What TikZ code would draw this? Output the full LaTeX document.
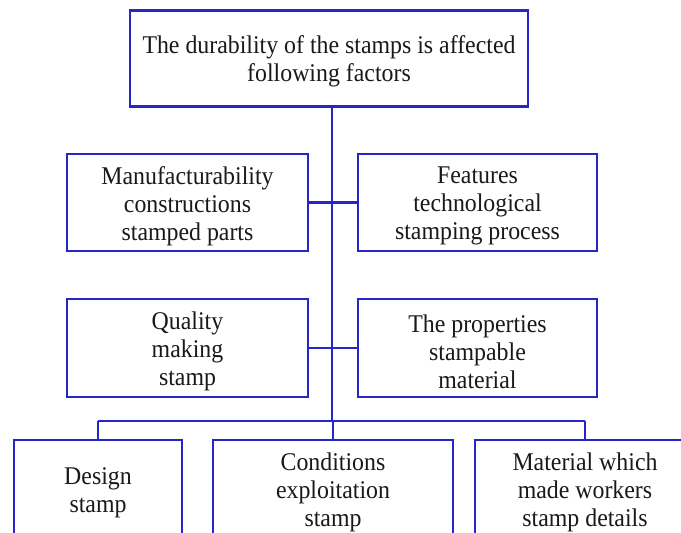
\documentclass[tikz,border=0pt]{standalone}
\usepackage{fontspec}
\setmainfont{Liberation Serif}[FakeStretch=0.935]
\definecolor{boxblue}{RGB}{38,38,200}
\definecolor{ink}{RGB}{25,25,25}
\tikzset{
  box/.style={draw=boxblue, line width=2.2pt, rectangle, inner sep=0pt},
  boxtext/.style={align=center, text=ink, inner sep=0pt,
    font=\fontsize{25.5}{27.8}\selectfont},
  link/.style={draw=boxblue, line width=2.2pt}
}
\begin{document}
\begin{tikzpicture}[x=1pt,y=-1pt]
\useasboundingbox (0,0) rectangle (681,533);
\clip (0,0) rectangle (681,533);
\fill[white] (0,0) rectangle (681,533);
% frames
\node[box, minimum width=398pt, minimum height=96pt] (top) at (329,58.5) {};
\node[box, minimum width=241pt, minimum height=97pt] (r2l) at (187.5,202.5) {};
\node[box, minimum width=239pt, minimum height=97pt] (r2r) at (477.5,202.5) {};
\node[box, minimum width=241pt, minimum height=98pt] (r3l) at (187.5,348) {};
\node[box, minimum width=239pt, minimum height=98pt] (r3r) at (477.5,348) {};
\node[box, minimum width=168pt, minimum height=96pt] (b1) at (98,488) {};
\node[box, minimum width=240pt, minimum height=96pt] (b2) at (333,488) {};
\node[box, minimum width=220pt, minimum height=96pt] (b3) at (585,488) {};
% texts
\node[boxtext] (topt) at ([yshift=-2.5pt]top.center)
  {The durability of the stamps is affected\\following factors};
\node[boxtext] (r2lt) at ([yshift=-3.5pt]r2l.center)
  {Manufacturability\\constructions\\stamped parts};
\node[boxtext] (r2rt) at ([yshift=-3.5pt]r2r.center)
  {Features\\technological\\stamping process};
\node[boxtext] (r3lt) at ([yshift=-3.5pt]r3l.center)
  {Quality\\making\\stamp};
\node[boxtext] (r3rt) at ([yshift=-3.5pt]r3r.center)
  {The properties\\stampable\\material};
\node[boxtext] (b1t) at ([yshift=-4.5pt]b1.center)
  {Design\\stamp};
\node[boxtext] (b2t) at ([yshift=-4.5pt]b2.center)
  {Conditions\\exploitation\\stamp};
\node[boxtext] (b3t) at ([yshift=-4.5pt]b3.center)
  {Material which\\made workers\\stamp details};
% connectors
\coordinate (bus) at (332,421);
\draw[link] (top.south -| bus) -- (bus);
\draw[link] (r2l.east) -- (r2r.west);
\draw[link] (r3l.east) -- (r3r.west);
\draw[link] (b1.north |- bus) -- (b3.north |- bus);
\draw[link] (b1.north |- bus) -- (b1.north);
\draw[link] (b2.north |- bus) -- (b2.north);
\draw[link] (b3.north |- bus) -- (b3.north);
\end{tikzpicture}
\end{document}
